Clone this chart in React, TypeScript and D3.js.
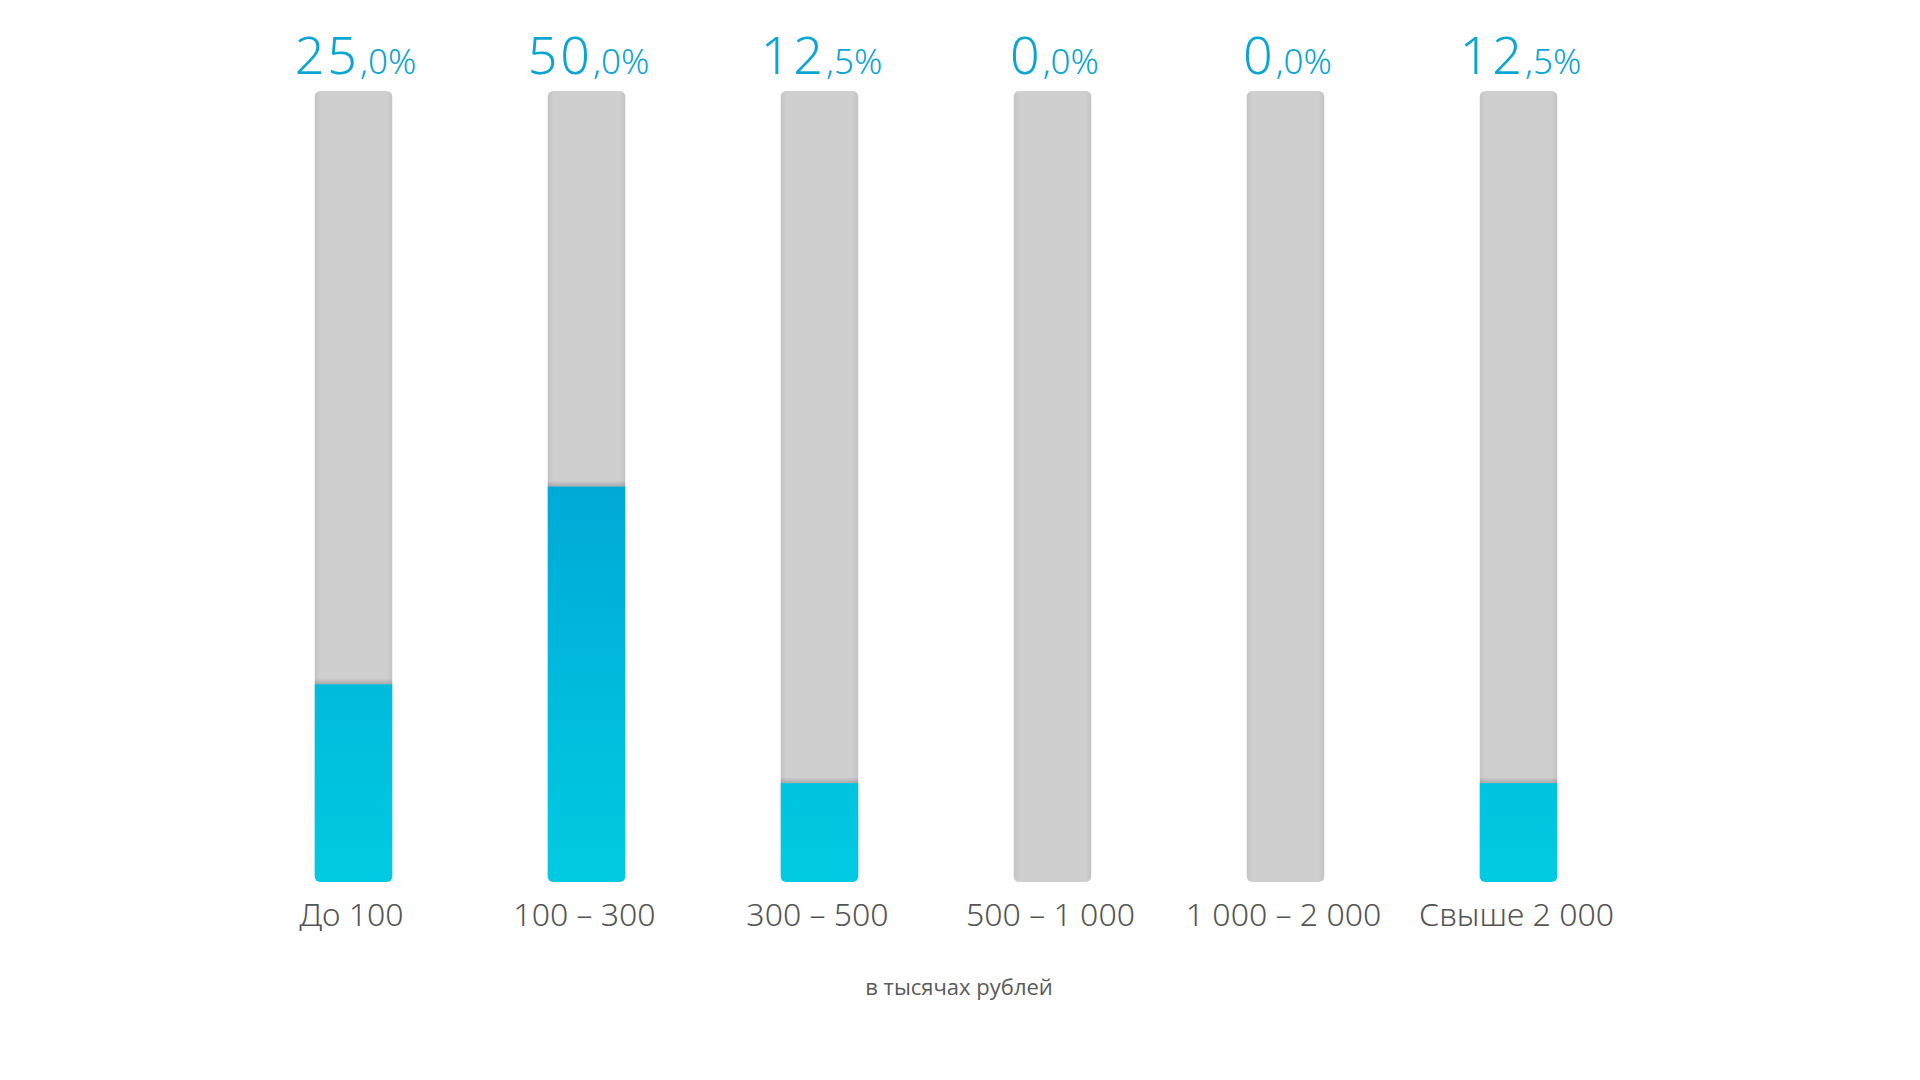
import React from "react";
import * as d3 from "d3";

const categories = ["До 100", "100 – 300", "300 – 500", "500 – 1 000", "1 000 – 2 000", "Свыше 2 000"];
const shares = [25.0, 50.0, 12.5, 0.0, 0.0, 12.5];
const unitNote = "в тысячах рублей";

const W = 1920;
const H = 1080;

export default function App() {
  const x = d3.scalePoint<string>().domain(categories).range([353.5, 1518.5]);
  const y = d3.scaleLinear().domain([0, 100]).range([882, 91]);
  const bw = 78;
  const r = 6;
  const fmtInt = (v: number) => String(Math.floor(v));
  const fmtDec = (v: number) => "," + d3.format(".1f")(v).split(".")[1] + "%";

  return (
    <svg width={W} height={H} style={{ position: "absolute", left: 0, top: 0, background: "#fff" }}>
      <defs>
        <linearGradient id="fillGrad" gradientUnits="userSpaceOnUse" x1="0" y1={y(60)} x2="0" y2={y(0)}>
          <stop offset="0" stopColor="#00a3d4" />
          <stop offset="1" stopColor="#00cbe2" />
        </linearGradient>
        <linearGradient id="shadowGrad" x1="0" y1="0" x2="0" y2="1">
          <stop offset="0" stopColor="#000" stopOpacity="0" />
          <stop offset="1" stopColor="#000" stopOpacity="0.18" />
        </linearGradient>
        <linearGradient id="edgeGrad" x1="0" y1="0" x2="1" y2="0">
          <stop offset="0" stopColor="#000" stopOpacity="0.06" />
          <stop offset="0.08" stopColor="#000" stopOpacity="0" />
          <stop offset="0.92" stopColor="#000" stopOpacity="0" />
          <stop offset="1" stopColor="#000" stopOpacity="0.06" />
        </linearGradient>
        {categories.map((c, i) => (
          <clipPath id={`clip${i}`} key={c}>
            <rect x={(x(c) as number) - bw / 2} y={y(100)} width={bw} height={y(0) - y(100)} rx={r} ry={r} />
          </clipPath>
        ))}
      </defs>
      {categories.map((c, i) => {
        const cx = x(c) as number;
        const v = shares[i];
        const top = y(v);
        return (
          <g key={c}>
            <g clipPath={`url(#clip${i})`}>
              <rect x={cx - bw / 2} y={y(100)} width={bw} height={y(0) - y(100)} fill="#cfcfcf" />
              <rect x={cx - bw / 2} y={y(100)} width={bw} height={y(0) - y(100)} fill="url(#edgeGrad)" />
              {v > 0 && (
                <>
                  <rect x={cx - bw / 2} y={top - 6} width={bw} height={6} fill="url(#shadowGrad)" />
                  <rect x={cx - bw / 2} y={top} width={bw} height={y(0) - top} fill="url(#fillGrad)" />
                </>
              )}
            </g>
            <text
              x={cx + 2}
              y={74}
              textAnchor="middle"
              fill="#0aa6d3"
              fontWeight={300}
              fontFamily="'Noto Sans', 'Open Sans', sans-serif"
            >
              <tspan fontSize={52} letterSpacing={3}>{fmtInt(v)}</tspan>
              <tspan fontSize={35}>{fmtDec(v)}</tspan>
            </text>
            <text
              x={cx - 2}
              y={926}
              textAnchor="middle"
              fill="#555"
              fontSize={32}
              fontWeight={300}
              fontFamily="'Noto Sans', 'Open Sans', sans-serif"
            >
              {c}
            </text>
          </g>
        );
      })}
      <text
        x={959}
        y={995}
        textAnchor="middle"
        fill="#5a5a5a"
        fontSize={22}
        fontFamily="'Open Sans', sans-serif"
      >
        {unitNote}
      </text>
    </svg>
  );
}
